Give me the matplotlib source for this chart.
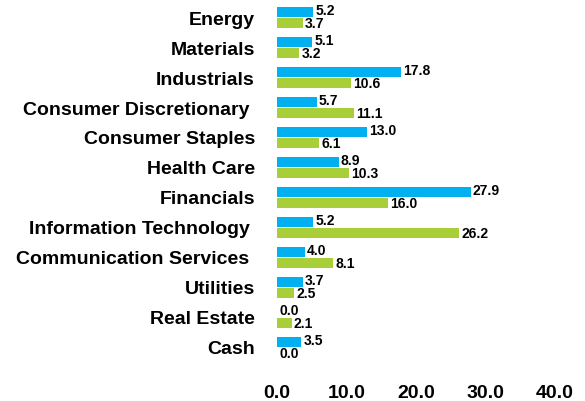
import numpy as np
import matplotlib
matplotlib.use("Agg")
import matplotlib.pyplot as plt

plt.rcParams['font.family'] = ['Liberation Sans', 'DejaVu Sans']
plt.rcParams['font.weight'] = 'bold'

# datos
sectores = ["Energy", "Materials", "Industrials", "Consumer Discretionary ",
            "Consumer Staples", "Health Care", "Financials",
            "Information Technology ", "Communication Services ",
            "Utilities", "Real Estate", "Cash"]
serie_azul = [5.2, 5.1, 17.8, 5.7, 13.0, 8.9, 27.9, 5.2, 4.0, 3.7, 0.0, 3.5]
serie_verde = [3.7, 3.2, 10.6, 11.1, 6.1, 10.3, 16.0, 26.2, 8.1, 2.5, 2.1, 0.0]
ticks_x = [0, 10, 20, 30, 40]

AZUL = "#00B0F0"
VERDE = "#A8CE38"

fig = plt.figure(figsize=(5.85, 4.01), dpi=100)
ax = fig.add_axes([0.4735, 0.0948, 0.4752, 0.8977])

y = np.arange(len(sectores))
alto = 0.33
ax.barh(y - 0.19, serie_azul, height=alto, color=AZUL)
ax.barh(y + 0.17, serie_verde, height=alto, color=VERDE)

# etiquetas de valor
for yi, v in zip(y, serie_azul):
    ax.annotate(f"{v:.1f}", (v, yi - 0.19), xytext=(1.5, 1), textcoords="offset points",
                ha="left", va="center", fontsize=10, fontweight="bold")
for yi, v in zip(y, serie_verde):
    ax.annotate(f"{v:.1f}", (v, yi + 0.17), xytext=(1.5, -0.5), textcoords="offset points",
                ha="left", va="center", fontsize=10, fontweight="bold")

ax.set_yticks(y)
ax.set_yticklabels(sectores, fontsize=14, fontweight="bold")
ax.set_xticks(ticks_x)
ax.set_xticklabels([f"{t:.1f}" for t in ticks_x], fontsize=14, fontweight="bold")
ax.set_xlim(0, 40)
ax.set_ylim(len(sectores) - 0.5, -0.5)
ax.tick_params(axis="both", length=0)
ax.tick_params(axis="x", pad=16)
ax.tick_params(axis="y", pad=16)
for s in ax.spines.values():
    s.set_visible(False)

fig.savefig("out.png", dpi=100)
